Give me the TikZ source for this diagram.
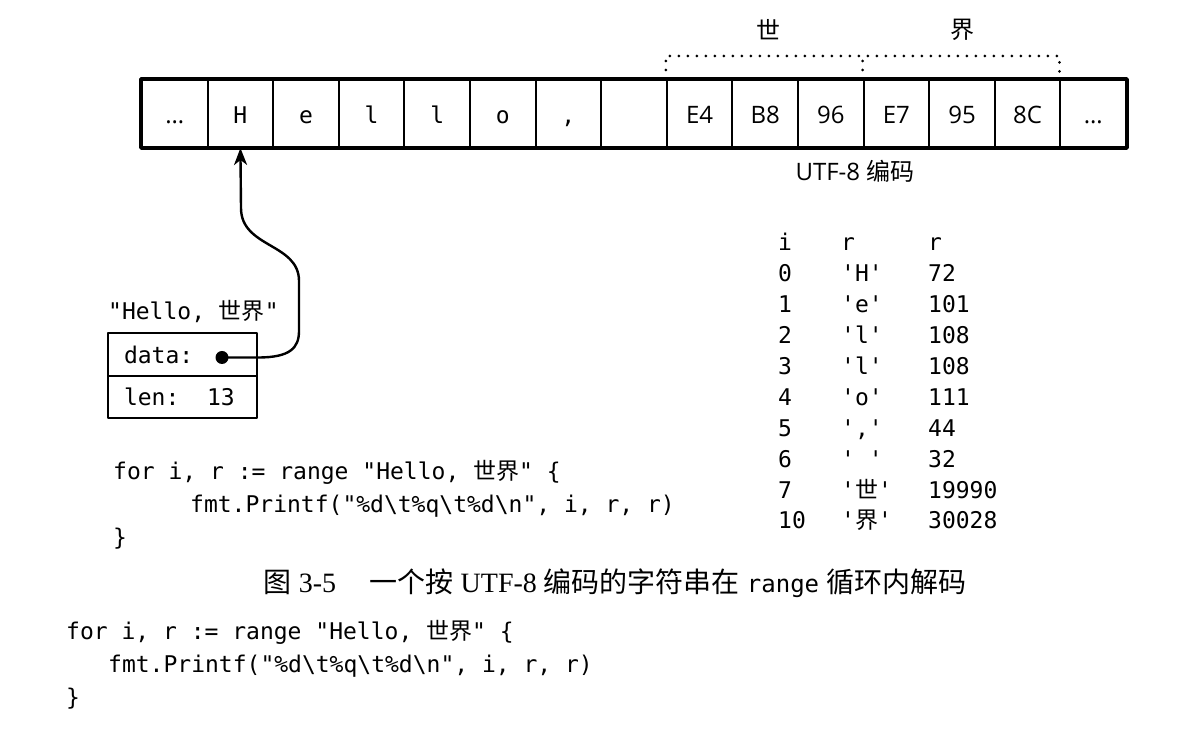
\documentclass[tikz,border=0pt]{standalone}
\usepackage{fontspec}
\usetikzlibrary{arrows.meta}
\setmainfont{Liberation Serif}
\setsansfont{Open Sans}
\setmonofont{DejaVu Sans Mono}
\newfontfamily\cjk{Noto Sans CJK SC}
\newcommand\cellmono{\ttfamily\fontsize{23bp}{27bp}\selectfont}
\newcommand\cellsans{\sffamily\fontsize{24bp}{28bp}\selectfont}
\newcommand\codetext{\ttfamily\fontsize{23bp}{28bp}\selectfont}
\newcommand\captiontext{\rmfamily\fontsize{28bp}{32bp}\selectfont}
\begin{document}
\begin{tikzpicture}[line join=bevel,
  cell/.style={draw=black,rectangle,line width=2bp,minimum width=65.6bp,minimum height=67bp,inner sep=0pt,text height=22bp,text depth=1bp},
  field/.style={draw=black,rectangle,line width=1.8bp,minimum height=42.5bp,text width=117bp,inner xsep=16bp,inner ysep=0pt,align=left,font=\codetext},
  bytebrace/.style={line width=3bp,line cap=round,dash pattern=on 0bp off 9bp},
  row/.style={anchor=base west,inner sep=0pt,font=\codetext},
]
\useasboundingbox (0bp,0bp) rectangle (1183bp,743bp);
%%
\node (c0) at (174.8bp,629.5bp) [cell,font=\cellsans] {…};
  \node (c1) at (240.4bp,629.5bp) [cell,font=\cellmono] {H};
  \node (c2) at (306bp,629.5bp) [cell,font=\cellmono] {e};
  \node (c3) at (371.6bp,629.5bp) [cell,font=\cellmono] {l};
  \node (c4) at (437.2bp,629.5bp) [cell,font=\cellmono] {l};
  \node (c5) at (502.8bp,629.5bp) [cell,font=\cellmono] {o};
  \node (c6) at (568.4bp,629.5bp) [cell,font=\cellmono] {,};
  \node (c7) at (634bp,629.5bp) [cell] {};
  \node (c8) at (699.6bp,629.5bp) [cell,font=\cellsans] {E4};
  \node (c9) at (765.2bp,629.5bp) [cell,font=\cellsans] {B8};
  \node (c10) at (830.8bp,629.5bp) [cell,font=\cellsans] {96};
  \node (c11) at (896.4bp,629.5bp) [cell,font=\cellsans] {E7};
  \node (c12) at (962bp,629.5bp) [cell,font=\cellsans] {95};
  \node (c13) at (1027.6bp,629.5bp) [cell,font=\cellsans] {8C};
  \node (c14) at (1093.2bp,629.5bp) [cell,font=\cellsans] {…};
  \draw [line width=3.2bp] (c0.south west) rectangle (c14.north east);
  \draw [bytebrace] (c8.north west) -- ++(0,23bp) -| (c14.north west);
  \draw [bytebrace] (c11.north west) -- ++(0,23bp);
  \node (shi) at (768bp,713bp) [font=\cjk\fontsize{24bp}{28bp}\selectfont] {世};
  \node (jie) at (962bp,713bp) [font=\cjk\fontsize{24bp}{28bp}\selectfont] {界};
  \node (enc) at (855bp,572bp) [font=\cellsans] {UTF-8 {\cjk 编码}};
%
  \node (strname) at (108bp,431bp) [anchor=west,inner sep=0pt,font=\codetext] {"Hello, {\cjk 世界}"};
  \node (data) at (182.5bp,388.5bp) [field] {data:};
  \node (len) at (182.5bp,346bp) [field] {len:\phantom{xx}13};
  \node (ptr) at (222bp,385.5bp) [circle,fill=black,inner sep=0pt,minimum size=13bp] {};
  \draw [-{Stealth[length=17bp,width=13bp,inset=5bp]},line width=2.4bp] (ptr.center) -- (258bp,385.5bp) .. controls (290bp,385.5bp) and (299bp,395bp) .. (299bp,412bp) -- (299bp,462bp) .. controls (299bp,500bp) and (241bp,495bp) .. (241bp,535bp) -- (c1.south);
%
  \node (row0) at (778bp,492bp) [row] {\makebox[63bp][l]{i}\makebox[87bp][l]{r}r};
  \node (row1) at (778bp,461bp) [row] {\makebox[63bp][l]{0}\makebox[87bp][l]{'H'}72};
  \node (row2) at (778bp,430bp) [row] {\makebox[63bp][l]{1}\makebox[87bp][l]{'e'}101};
  \node (row3) at (778bp,399bp) [row] {\makebox[63bp][l]{2}\makebox[87bp][l]{'l'}108};
  \node (row4) at (778bp,368bp) [row] {\makebox[63bp][l]{3}\makebox[87bp][l]{'l'}108};
  \node (row5) at (778bp,337bp) [row] {\makebox[63bp][l]{4}\makebox[87bp][l]{'o'}111};
  \node (row6) at (778bp,306bp) [row] {\makebox[63bp][l]{5}\makebox[87bp][l]{','}44};
  \node (row7) at (778bp,275bp) [row] {\makebox[63bp][l]{6}\makebox[87bp][l]{' '}32};
  \node (row8) at (778bp,244bp) [row] {\makebox[63bp][l]{7}\makebox[87bp][l]{'{\cjk 世}'}19990};
  \node (row9) at (778bp,214bp) [row] {\makebox[63bp][l]{10}\makebox[87bp][l]{'{\cjk 界}'}30028};
%
  \node (loop1) at (113bp,263bp) [row] {for i, r := range "Hello, {\cjk 世界}" \{};
  \node (loop2) at (190bp,230bp) [row] {fmt.Printf("\%d\textbackslash t\%q\textbackslash t\%d\textbackslash n", i, r, r)};
  \node (loop3) at (113bp,197bp) [row] {\}};
  \node (caption) at (615bp,160bp) [font=\captiontext] {{\cjk 图} 3-5\hspace{1.2em}{\cjk 一个按} UTF-8 {\cjk 编码的字符串在} {\ttfamily\fontsize{24bp}{28bp}\selectfont range} {\cjk 循环内解码}};
%
  \node (code1) at (66bp,103bp) [row] {for i, r := range "Hello, {\cjk 世界}" \{};
  \node (code2) at (108bp,70bp) [row] {fmt.Printf("\%d\textbackslash t\%q\textbackslash t\%d\textbackslash n", i, r, r)};
  \node (code3) at (66bp,38bp) [row] {\}};
%
\end{tikzpicture}
\end{document}
